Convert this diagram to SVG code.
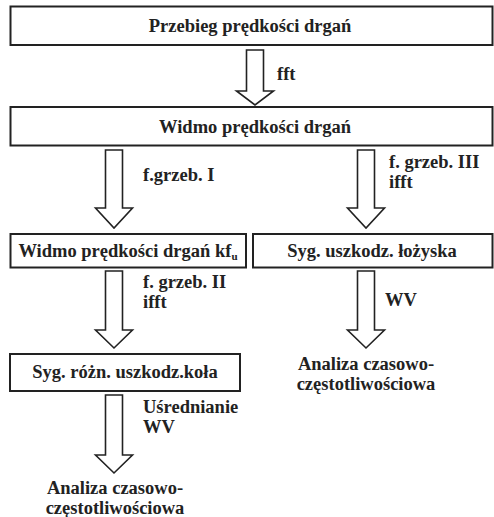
<svg xmlns="http://www.w3.org/2000/svg" width="494" height="517" viewBox="0 0 494 517">
<style>
.box{fill:#fff;stroke:#222;stroke-width:2}
.arr{fill:#fff;stroke:#222;stroke-width:1.6;stroke-linejoin:miter}
text{font-family:"Liberation Serif","Times New Roman",serif;font-weight:bold;fill:#222;font-size:18.5px}
.c{text-anchor:middle}
</style>
<rect width="494" height="517" fill="#fff"/>
<g id="n1"><rect class="box" x="10.5" y="6.5" width="482" height="38.5"/><text class="c" x="250" y="32">Przebieg prędkości drgań</text></g>
<g id="n2"><rect class="box" x="10.5" y="107" width="482" height="38.5"/><text class="c" x="255" y="133">Widmo prędkości drgań</text></g>
<g id="n3"><rect class="box" x="10.5" y="234" width="235.5" height="33.5"/><text class="c" x="128" y="257">Widmo prędkości drgań kf<tspan font-size="11" dy="3">u</tspan></text></g>
<g id="n4"><rect class="box" x="253" y="234" width="239.5" height="33.5"/><text class="c" x="372" y="257">Syg. uszkodz. łożyska</text></g>
<g id="n5"><rect class="box" x="10" y="354" width="230" height="37"/><text class="c" x="125" y="378">Syg. różn. uszkodz.koła</text></g>
<g id="n6"><text class="c" x="366" y="370">Analiza czasowo-</text><text class="c" x="366" y="390">częstotliwościowa</text></g>
<g id="n7"><text class="c" x="115" y="494">Analiza czasowo-</text><text class="c" x="115" y="514">częstotliwościowa</text></g>
<g id="connectors">
<polygon class="arr" points="246.5,50 263.5,50 263.5,91 273.5,91 255,105 236.5,91 246.5,91"/>
<polygon class="arr" points="105.5,150 122.5,150 122.5,208 132.5,208 114,228 95.5,208 105.5,208"/>
<polygon class="arr" points="357.5,150 374.5,150 374.5,208 384.5,208 366,228 347.5,208 357.5,208"/>
<polygon class="arr" points="105.5,271 122.5,271 122.5,330 132.5,330 114,348 95.5,330 105.5,330"/>
<polygon class="arr" points="357.5,271 374.5,271 374.5,330 384.5,330 366,348 347.5,330 357.5,330"/>
<polygon class="arr" points="105.5,395 122.5,395 122.5,455 132.5,455 114,473 95.5,455 105.5,455"/>
<text x="277" y="80">fft</text>
<text x="143" y="181">f.grzeb. I</text>
<text x="389" y="168">f. grzeb. III</text>
<text x="389" y="188">ifft</text>
<text x="143" y="288">f. grzeb. II</text>
<text x="143" y="308">ifft</text>
<text x="385" y="306">WV</text>
<text x="143" y="413">Uśrednianie</text>
<text x="143" y="433">WV</text>
</g>
</svg>
